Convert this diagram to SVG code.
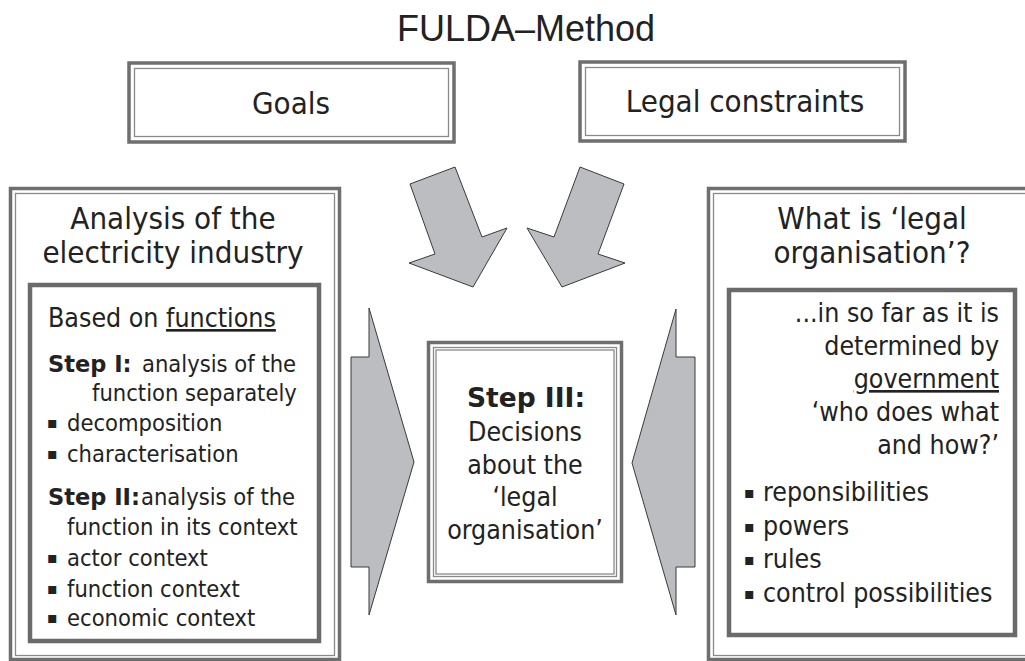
<svg xmlns="http://www.w3.org/2000/svg" width="1025" height="661" viewBox="0 0 1025 661">
<style>
.t { font-family: "DejaVu Sans", Verdana, sans-serif; font-stretch: condensed; fill: #222; }
.title { font-family: "Liberation Sans", Arial, sans-serif; font-size: 36px; fill: #222; }
.h { font-size: 31px; }
.l { font-size: 23.5px; }
.lb { font-size: 26.5px; }
.c { font-size: 26.5px; }
.r { font-size: 26.5px; }
.b { font-weight: bold; font-stretch: normal; }
.bs { font-size: 22.5px; }
.u { text-decoration: underline; }
.bul { font-size: 16px; font-stretch: normal; }
.outer { fill: #fff; stroke: #6e6e6e; stroke-width: 3.5; }
.thin { fill: none; stroke: #8a8a8a; stroke-width: 1.3; }
.inner { fill: #fff; stroke: #6a6a6a; stroke-width: 4.5; }
.arrow { fill: #bcbdc0; stroke: #3a3a3a; stroke-width: 1; stroke-linejoin: miter; }
</style>

<text class="title" x="526" y="41" text-anchor="middle">FULDA–Method</text>

<g id="goals">
  <rect class="outer" x="129" y="63" width="325" height="79"/>
  <rect class="thin" x="134.5" y="68.5" width="314" height="68"/>
  <text class="t h" x="291" y="114" text-anchor="middle">Goals</text>
</g>

<g id="legal-constraints">
  <rect class="outer" x="580" y="62" width="325" height="79"/>
  <rect class="thin" x="585.5" y="67.5" width="314" height="68"/>
  <text class="t h" x="745" y="112" text-anchor="middle">Legal constraints</text>
</g>

<g id="analysis">
  <rect class="outer" x="10.5" y="188.5" width="329" height="471"/>
  <rect class="thin" x="15.5" y="193.5" width="319" height="462"/>
  <text class="t h" x="173" y="229" text-anchor="middle">Analysis of the</text>
  <text class="t h" x="173" y="263" text-anchor="middle">electricity industry</text>
  <rect class="inner" x="30" y="285" width="289" height="356"/>
  <text class="t lb" x="48" y="327">Based on <tspan class="u">functions</tspan></text>
  <text class="t l" x="48" y="372"><tspan class="b bs">Step I:</tspan><tspan x="142">analysis of the</tspan></text>
  <text class="t l" x="92" y="401">function separately</text>
  <text class="t bul" x="47" y="428">▪</text>
  <text class="t l" x="67" y="431">decomposition</text>
  <text class="t bul" x="47" y="459">▪</text>
  <text class="t l" x="67" y="462">characterisation</text>
  <text class="t l" x="48" y="505"><tspan class="b bs">Step II:</tspan><tspan x="141">analysis of the</tspan></text>
  <text class="t l" x="67" y="535">function in its context</text>
  <text class="t bul" x="47" y="563">▪</text>
  <text class="t l" x="67" y="566">actor context</text>
  <text class="t bul" x="47" y="594">▪</text>
  <text class="t l" x="67" y="597">function context</text>
  <text class="t bul" x="47" y="623">▪</text>
  <text class="t l" x="67" y="626">economic context</text>
</g>

<g id="legal-organisation">
  <rect class="outer" x="708.5" y="188.5" width="340" height="471"/>
  <rect class="thin" x="713.5" y="193.5" width="330" height="462"/>
  <text class="t h" x="872" y="229" text-anchor="middle">What is ‘legal</text>
  <text class="t h" x="872" y="263" text-anchor="middle">organisation’?</text>
  <rect class="inner" x="729" y="290" width="286" height="345"/>
  <text class="t r" x="999" y="322" text-anchor="end">...in so far as it is</text>
  <text class="t r" x="999" y="355" text-anchor="end">determined by</text>
  <text class="t r u" x="999" y="388" text-anchor="end">government</text>
  <text class="t r" x="999" y="421" text-anchor="end">‘who does what</text>
  <text class="t r" x="999" y="454" text-anchor="end">and how?’</text>
  <text class="t bul" x="744" y="498">▪</text>
  <text class="t r" x="763" y="501">reponsibilities</text>
  <text class="t bul" x="744" y="532">▪</text>
  <text class="t r" x="763" y="535">powers</text>
  <text class="t bul" x="744" y="565">▪</text>
  <text class="t r" x="763" y="568">rules</text>
  <text class="t bul" x="744" y="599">▪</text>
  <text class="t r" x="763" y="602">control possibilities</text>
</g>

<g id="step3">
  <rect class="outer" x="428.5" y="342.5" width="193" height="239"/>
  <rect class="thin" x="433.5" y="347.5" width="183" height="229"/>
  <rect class="thin" x="436" y="350" width="178" height="224"/>
  <text class="t c b" x="526" y="407" text-anchor="middle">Step III:</text>
  <text class="t c" x="525" y="441" text-anchor="middle">Decisions</text>
  <text class="t c" x="525" y="474" text-anchor="middle">about the</text>
  <text class="t c" x="525" y="506" text-anchor="middle">‘legal</text>
  <text class="t c" x="525" y="539" text-anchor="middle">organisation’</text>
</g>

<g id="connectors">
  <polygon class="arrow" points="410,184 455,167 482,237 507,228 473,287 409,263 435,254"/>
  <polygon class="arrow" points="580,167 624,184 598,254 625,263 562,287 527,228 554,237"/>
  <polygon class="arrow" points="351,357 369,357 369,308 414,462 369,615 369,567 351,567"/>
  <polygon class="arrow" points="695,357 676,357 676,309 632,463 676,615 676,567 695,567"/>
</g>
</svg>
